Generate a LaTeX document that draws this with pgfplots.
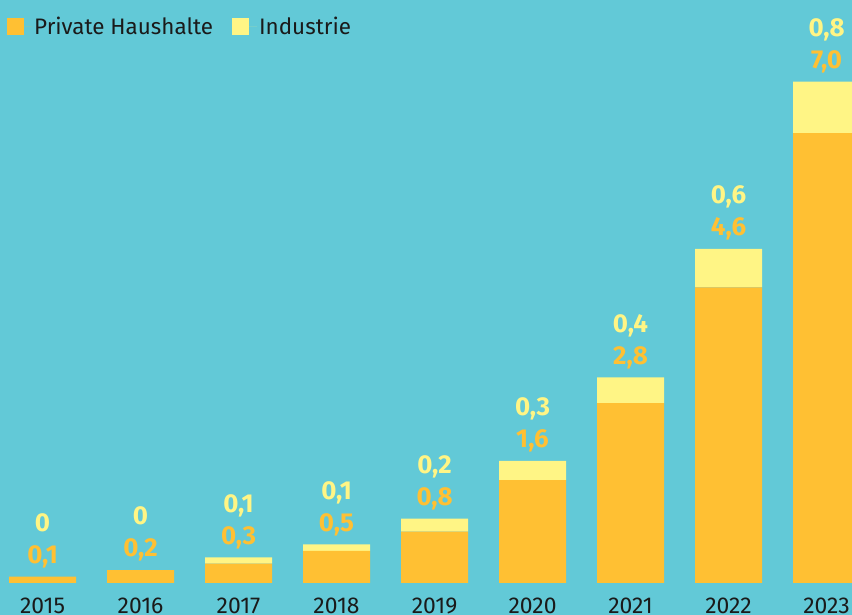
\documentclass[border=0pt]{standalone}
\usepackage{pgfplots}
\pgfplotsset{compat=1.18}
\usepackage{fontspec}
\setmainfont{Fira Sans}
\definecolor{bg}{HTML}{62C9D7}
\definecolor{priv}{HTML}{FFC033}
\definecolor{ind}{HTML}{FFF585}
\definecolor{txt}{HTML}{1A1A1A}
\newcommand{\lab}[2]{\textcolor{ind}{#1}\\\textcolor{priv}{#2}}
\begin{document}
\begin{tikzpicture}
\fill[bg] (0,-32bp) rectangle (852bp,583bp);
\begin{axis}[
  at={(0,0)}, anchor=south west,
  scale only axis, width=852bp, height=583bp,
  xmin=2014.566, xmax=2023.26, ymin=0, ymax=9.07,
  ybar stacked, bar width=67bp,
  axis line style={draw=none},
  ytick=\empty,
  xtick={2015,2016,2017,2018,2019,2020,2021,2022,2023},
  xticklabels={2015,2016,2017,2018,2019,2020,2021,2022,2023},
  major tick length=0pt,
  xticklabel style={font=\fontsize{23}{23}\selectfont, text=txt, anchor=center, yshift=-23bp},
  legend style={at={(0,1)}, anchor=north west, draw=none, fill=none,
    font=\fontsize{22.5}{22.5}\selectfont, text=txt, xshift=4bp, yshift=-13bp,
    /tikz/every even column/.append style={column sep=17bp}},
  legend columns=2,
  legend image code/.code={\fill[#1] (0bp,-8bp) rectangle (17bp,9bp); \path (0bp,0bp) -- (25bp,0bp);},
]
\addplot[fill=priv, draw=none] coordinates {(2015,0.1) (2016,0.2) (2017,0.3) (2018,0.5) (2019,0.8) (2020,1.6) (2021,2.8) (2022,4.6) (2023,7.0)};
\addplot[fill=ind, draw=none] coordinates {(2015,0) (2016,0) (2017,0.1) (2018,0.1) (2019,0.2) (2020,0.3) (2021,0.4) (2022,0.6) (2023,0.8)};
\legend{Private Haushalte, Industrie}
\addplot[draw=none, fill=none, nodes near coords, point meta=explicit symbolic,
  nodes near coords style={anchor=south, align=center, inner sep=0pt, yshift=8.5bp,
    font=\fontsize{26}{32}\selectfont\bfseries}]
  coordinates {(2015,0.0001) [\lab{0}{0,1}] (2016,0.0001) [\lab{0}{0,2}] (2017,0.0001) [\lab{0,1}{0,3}]
  (2018,0.0001) [\lab{0,1}{0,5}] (2019,0.0001) [\lab{0,2}{0,8}] (2020,0.0001) [\lab{0,3}{1,6}]
  (2021,0.0001) [\lab{0,4}{2,8}] (2022,0.0001) [\lab{0,6}{4,6}] (2023,0.0001) [\lab{0,8}{7,0}]};
\end{axis}
\pgfresetboundingbox
\useasboundingbox (0,-32bp) rectangle (852bp,583bp);
\end{tikzpicture}
\end{document}
